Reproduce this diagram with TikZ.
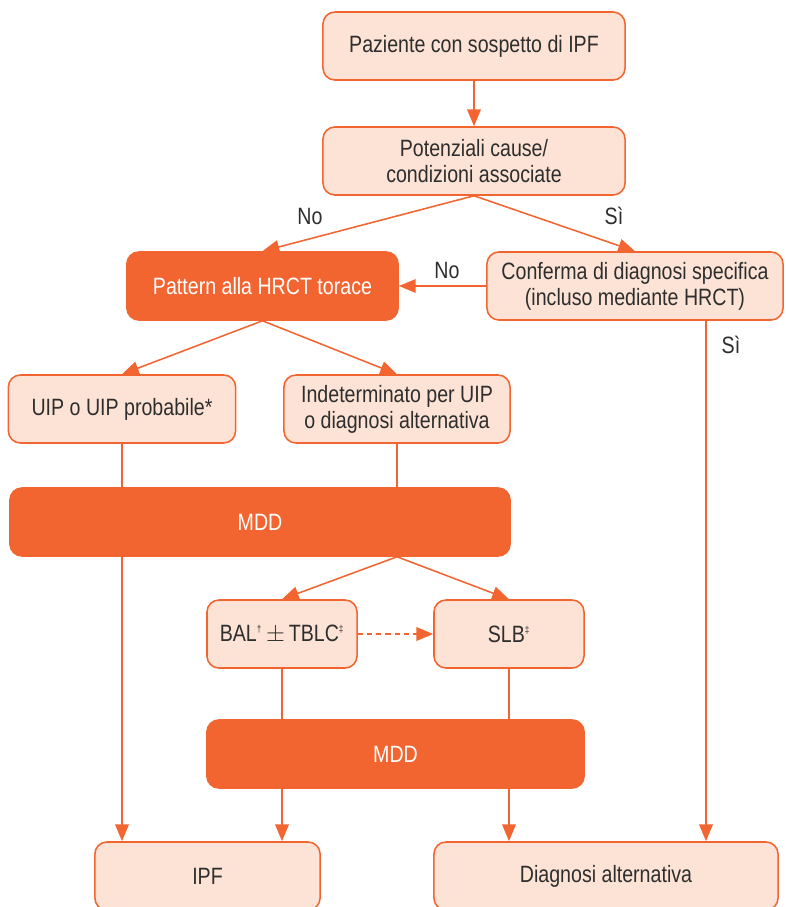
\documentclass[tikz,border=0pt]{standalone}
\usepackage{fontspec}
\setmainfont{Liberation Sans}[FakeStretch=0.83]
\usetikzlibrary{arrows.meta}
\definecolor{ipforange}{HTML}{F26531}
\definecolor{ipflight}{HTML}{FDE3D5}
\definecolor{ipftext}{HTML}{2E2E2E}
\begin{document}
\begin{tikzpicture}[x=0.025cm,y=-0.025cm,
  box/.style={draw=ipforange, fill=ipflight, rounded corners=0.3cm, line width=1.1pt,
    align=center, text=ipftext, minimum height=1.7cm, inner sep=2pt,
    font=\fontsize{16.8}{18.5}\selectfont},
  dark/.style={box, fill=ipforange, text=white},
  lin/.style={draw=ipforange, line width=1.1pt},
  arr/.style={lin, -{Triangle[length=0.42cm,width=0.34cm]}},
  dash arr/.style={arr, dash pattern=on 0.13cm off 0.1cm},
  lbl/.style={text=ipftext, inner sep=0pt, font=\fontsize{16.8}{18.5}\selectfont}]
\useasboundingbox (0,0) rectangle (785,907);
\node [box, minimum width=7.55cm] (paz) at (474,46) {Paziente con sospetto di IPF};
\node [box, minimum width=7.55cm] (cause) at (474,161) {Potenziali cause/\\condizioni associate};
\node [dark, minimum width=6.78cm] (hrct) at (262.5,286) {Pattern alla HRCT torace};
\node [box, minimum width=7.4cm] (conf) at (635,286) {Conferma di diagnosi specifica\\(incluso mediante HRCT)};
\node [box, minimum width=5.68cm] (uip) at (122,409) {UIP o UIP probabile*};
\node [box, minimum width=5.65cm] (ind) at (397,409) {Indeterminato per UIP\\o diagnosi alternativa};
\node [dark, minimum width=12.5cm] (mdda) at (260,522) {MDD};
\node [box, minimum width=3.75cm] (bal) at (282,634) {BAL\textsuperscript{\scriptsize †}\,$\pm$\,TBLC\textsuperscript{\scriptsize ‡}};
\node [box, minimum width=3.75cm] (slb) at (509,634) {SLB\textsuperscript{\scriptsize ‡}};
\node [dark, minimum width=9.43cm] (mddb) at (395.5,754) {MDD};
\node [box, minimum width=5.63cm] (ipf) at (207.5,876) {IPF};
\node [box, minimum width=8.6cm] (alt) at (606,876) {Diagnosi alternativa};
\coordinate (sidown) at (706,0);
\node [lbl] (no1) at (310,216) {No};
\node [lbl] (si1) at (614,216) {Sì};
\node [lbl] (no2) at (447,270) {No};
\node [lbl] (si2) at (731,345) {Sì};
\draw [arr] (paz) -- (cause);
\draw [arr] (cause.south) -- (hrct.north);
\draw [arr] (cause.south) -- (conf.north);
\draw [arr] (conf) -- (hrct);
\draw [arr] (hrct.south) -- (uip.north);
\draw [arr] (hrct.south) -- (ind.north);
\draw [lin] (uip) -- (uip |- mdda.north);
\draw [arr] (uip |- mdda.south) -- (uip |- ipf.north);
\draw [lin] (ind) -- (ind |- mdda.north);
\draw [arr] (ind |- mdda.south) -- (bal.north);
\draw [arr] (ind |- mdda.south) -- (slb.north);
\draw [dash arr] (bal) -- (slb);
\draw [lin] (bal) -- (bal |- mddb.north);
\draw [lin] (slb) -- (slb |- mddb.north);
\draw [arr] (bal |- mddb.south) -- (bal |- ipf.north);
\draw [arr] (slb |- mddb.south) -- (slb |- alt.north);
\draw [arr] (conf.south -| sidown) -- (alt.north -| sidown);
\end{tikzpicture}
\end{document}
